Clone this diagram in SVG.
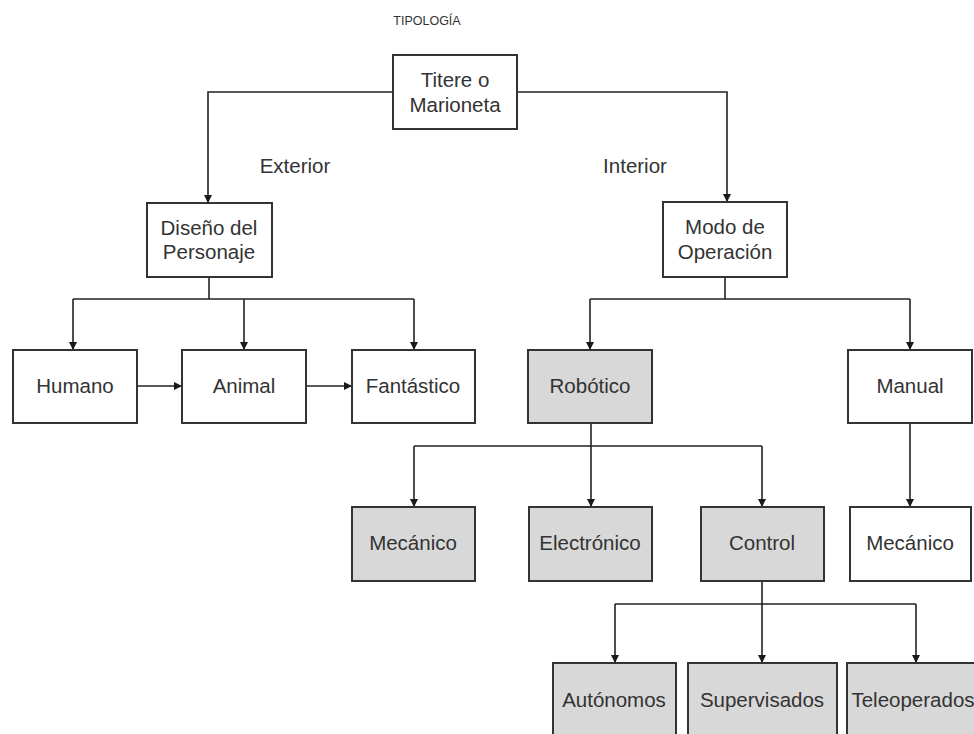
<svg xmlns="http://www.w3.org/2000/svg" width="974" height="734" viewBox="0 0 974 734">
<defs>
<marker id="ah" viewBox="0 0 10 10" refX="10" refY="5" markerWidth="8" markerHeight="8" markerUnits="userSpaceOnUse" orient="auto">
<path d="M0,0 L10,5 L0,10 z" fill="#1a1a1a"/>
</marker>
</defs>
<style>
text{font-family:"Liberation Sans",Arial,sans-serif;font-size:20.5px;fill:#333;text-anchor:middle}
.t{font-size:12.5px}
.box{fill:#fff;stroke:#333;stroke-width:2}
.g{fill:#d8d8d8}
.c{fill:none;stroke:#222;stroke-width:1.6}
.a{marker-end:url(#ah)}
</style>
<rect width="974" height="734" fill="#fff"/>
<text class="t" x="427" y="25">TIPOLOGÍA</text>
<text x="295" y="173">Exterior</text>
<text x="635" y="173">Interior</text>
<g id="connectors">
<path class="c a" d="M393,92 H208 V203"/>
<path class="c a" d="M517,92 H727 V202"/>
<path class="c" d="M209,277 V299"/>
<path class="c" d="M73,299 H414"/>
<path class="c a" d="M73,299 V350"/>
<path class="c a" d="M244,299 V350"/>
<path class="c a" d="M414,299 V350"/>
<path class="c a" d="M137,386 H182"/>
<path class="c a" d="M306,386 H352"/>
<path class="c" d="M725,277 V299"/>
<path class="c" d="M590,299 H910"/>
<path class="c a" d="M590,299 V350"/>
<path class="c a" d="M910,299 V350"/>
<path class="c" d="M414,446 H762"/>
<path class="c a" d="M591,423 V507"/>
<path class="c a" d="M414,446 V507"/>
<path class="c a" d="M762,446 V507"/>
<path class="c a" d="M910,423 V507"/>
<path class="c" d="M615,604 H916"/>
<path class="c a" d="M762,581 V663"/>
<path class="c a" d="M615,604 V663"/>
<path class="c a" d="M916,604 V663"/>
</g>
<g id="n-titere"><rect class="box" x="393" y="55" width="124" height="74"/><text x="455" y="87">Titere o</text><text x="455" y="112">Marioneta</text></g>
<g id="n-diseno"><rect class="box" x="147" y="203" width="125" height="74"/><text x="209" y="235">Diseño del</text><text x="209" y="259">Personaje</text></g>
<g id="n-modo"><rect class="box" x="663" y="202" width="124" height="75"/><text x="725" y="234">Modo de</text><text x="725" y="259">Operación</text></g>
<g id="n-humano"><rect class="box" x="13" y="350" width="124" height="73"/><text x="75" y="393">Humano</text></g>
<g id="n-animal"><rect class="box" x="182" y="350" width="124" height="73"/><text x="244" y="393">Animal</text></g>
<g id="n-fantastico"><rect class="box" x="352" y="350" width="123" height="73"/><text x="413" y="393">Fantástico</text></g>
<g id="n-robotico"><rect class="box g" x="528" y="350" width="124" height="73"/><text x="590" y="393">Robótico</text></g>
<g id="n-manual"><rect class="box" x="848" y="350" width="124" height="73"/><text x="910" y="393">Manual</text></g>
<g id="n-mecanico1"><rect class="box g" x="352" y="507" width="123" height="74"/><text x="413" y="550">Mecánico</text></g>
<g id="n-electronico"><rect class="box g" x="529" y="507" width="123" height="74"/><text x="590" y="550">Electrónico</text></g>
<g id="n-control"><rect class="box g" x="701" y="507" width="123" height="74"/><text x="762" y="550">Control</text></g>
<g id="n-mecanico2"><rect class="box" x="850" y="507" width="121" height="74"/><text x="910" y="550">Mecánico</text></g>
<g id="n-autonomos"><rect class="box g" x="553" y="663" width="123" height="80"/><text x="614" y="707">Autónomos</text></g>
<g id="n-supervisados"><rect class="box g" x="688" y="663" width="149" height="80"/><text x="762" y="707">Supervisados</text></g>
<g id="n-teleoperados"><rect class="box g" x="847" y="663" width="140" height="80"/><text x="913" y="707">Teleoperados</text></g>
</svg>
